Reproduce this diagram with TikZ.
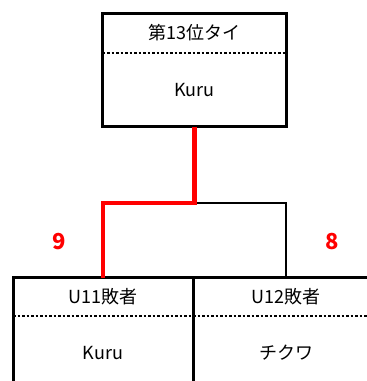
\documentclass[tikz,border=0pt]{standalone}
\usepackage{fontspec}
\setmainfont{Noto Sans CJK JP}
\begin{document}
\begin{tikzpicture}[x=1pt,y=-1pt,
  boxnode/.style={draw=black,line width=3pt,rectangle,inner sep=0pt,outer sep=0pt,anchor=north},
  sep/.style={line width=2pt,dash pattern=on 2.5pt off 2pt},
  lbl/.style={font=\fontsize{18}{18}\selectfont,inner sep=0pt},
  score/.style={font=\fontsize{22}{22}\selectfont\bfseries,text=red,inner sep=0pt},
  win/.style={draw=red,line width=4.5pt},
  lose/.style={draw=black,line width=1.5pt}]
\useasboundingbox (0,0) rectangle (367,381);
\clip (0,0) rectangle (367,381);
\node[boxnode,minimum width=184pt,minimum height=113pt] (top) at (194.5,13.5) {};
\node[boxnode,minimum width=180pt,minimum height=130pt] (bl) at (103,277.5) {};
\node[boxnode,minimum width=186pt,minimum height=130pt] (br) at (286,277.5) {};
\draw[sep] (top.west |- 0,52.5) -- (top.east |- 0,52.5);
\draw[sep] (bl.west |- 0,315.5) -- (br.east |- 0,315.5);
\node[lbl] (t1) at (194.5,33) {第13位タイ};
\node[lbl] (t2) at (194.5,90) {Kuru};
\node[lbl] (b1) at (103,297) {U11敗者};
\node[lbl] (b2) at (103,353) {Kuru};
\node[lbl] (b3) at (286,297) {U12敗者};
\node[lbl] (b4) at (286,353) {チクワ};
\coordinate (j) at (194.5,203);
\draw[lose] (j) -| (br.north);
\draw[win] (top.south) -- (j) -| (bl.north);
\node[score] (s1) at (59,242) {9};
\node[score] (s2) at (332,242) {8};
\end{tikzpicture}
\end{document}
